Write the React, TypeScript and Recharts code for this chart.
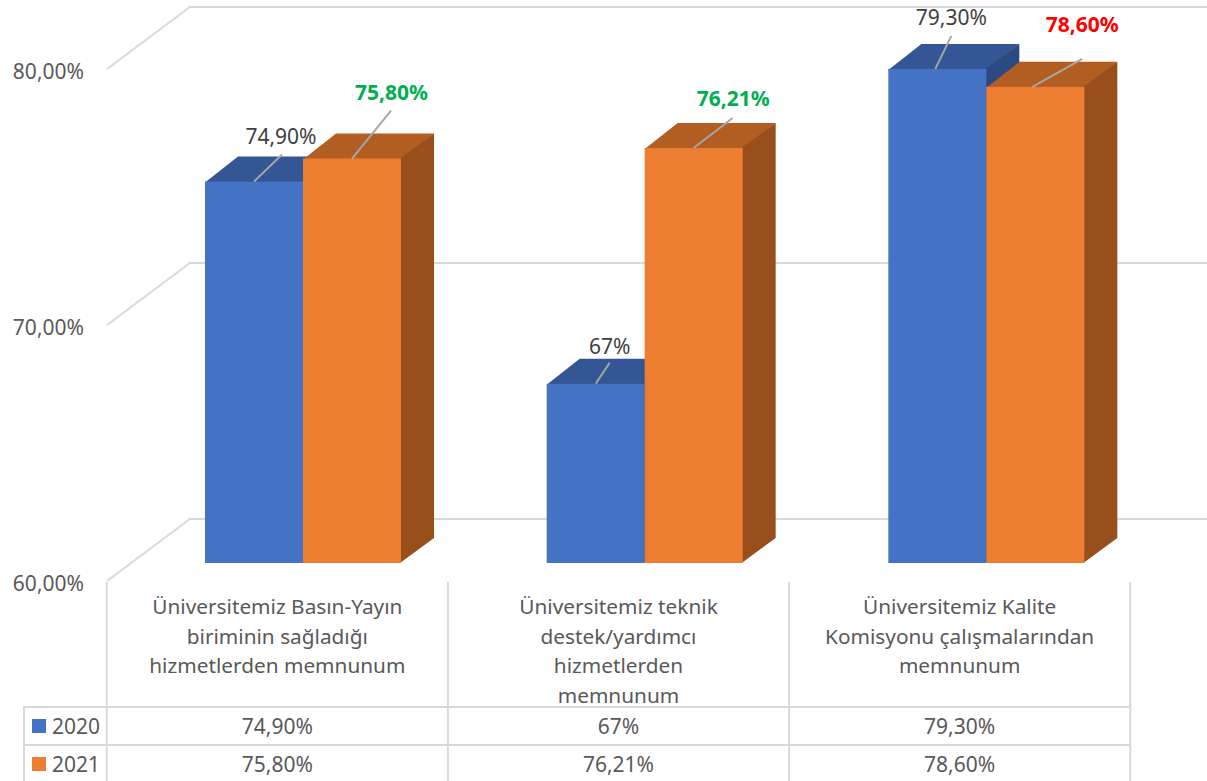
import { Bar, BarChart, CartesianGrid, LabelList, XAxis, YAxis } from "recharts";

const categories = [
  ["Üniversitemiz Basın-Yayın", "biriminin sağladığı", "hizmetlerden memnunum"],
  ["Üniversitemiz teknik", "destek/yardımcı", "hizmetlerden", "memnunum"],
  ["Üniversitemiz Kalite", "Komisyonu çalışmalarından", "memnunum"],
];
const seriesNames = ["2020", "2021"];
const values2020 = [74.9, 67, 79.3];
const values2021 = [75.8, 76.21, 78.6];
const labels2020 = ["74,90%", "67%", "79,30%"];
const labels2021 = ["75,80%", "76,21%", "78,60%"];
const yTicks = [60, 70, 80];
const yTickLabels = ["60,00%", "70,00%", "80,00%"];

const chartData = categories.map((lines, i) => ({
  name: lines.join(" "),
  y2020: values2020[i],
  y2021: values2021[i],
}));

const FONT = "'Noto Sans', sans-serif";
const TEXT = "#595959";
const GRID = "#d9d9d9";
const DEPTH_X = 33;
const DEPTH_Y = 25;

// leader line end and label centre, relative to the bar's top left corner
const leaders2020 = [
  { sx: 49, ex: 77, ey: -27, lx: 76, ly: -46 },
  { sx: 49, ex: 63, ey: -21, lx: 63, ly: -38 },
  { sx: 47, ex: 63, ey: -33, lx: 63, ly: -52 },
];
const leaders2021 = [
  { sx: 49, ex: 88, ey: -48, lx: 88.5, ly: -67 },
  { sx: 49, ex: 88, ey: -30, lx: 88.5, ly: -50 },
  { sx: 46, ex: 96, ey: -28, lx: 96, ly: -63 },
];

function Box3D({ x, y, width, height, fill, top, side }: any) {
  const r = x + width;
  const b = y + height;
  // top and side run slightly under the front face so no seam shows through
  return (
    <g>
      <polygon
        points={`${x},${y + 1} ${x + DEPTH_X},${y - DEPTH_Y} ${r + DEPTH_X},${y - DEPTH_Y} ${r},${y + 1}`}
        fill={top}
      />
      <polygon
        points={`${r - 1},${y} ${r + DEPTH_X},${y - DEPTH_Y} ${r + DEPTH_X},${b - DEPTH_Y} ${r - 1},${b}`}
        fill={side}
      />
      <rect x={x} y={y} width={width} height={height} fill={fill} />
    </g>
  );
}

function GridWall({ x1, y1 }: any) {
  const wallX = x1 - 25;
  return (
    <g stroke={GRID} strokeWidth={2} fill="none">
      <polyline points={`${wallX},${y1 + 18} ${wallX + 83},${y1 - 44} 1207,${y1 - 44}`} />
    </g>
  );
}

function YTick({ y, index }: any) {
  return (
    <text
      x={84}
      y={y + 19.5}
      textAnchor="end"
      dominantBaseline="central"
      fontFamily={FONT}
      fontSize={21}
      fill={TEXT}
    >
      {yTickLabels[index]}
    </text>
  );
}

function TableCell({ x, index }: any) {
  const cx = x - 25.5 - index * 0.5;
  const left = cx - 170.6;
  const right = cx + 170.6;
  const textProps = {
    textAnchor: "middle" as const,
    dominantBaseline: "central" as const,
    fontFamily: FONT,
    fontSize: 21,
    fill: TEXT,
  };
  return (
    <g>
      <g stroke={GRID} strokeWidth={2}>
        <line x1={left} y1={582} x2={left} y2={781} />
        {index === 2 && <line x1={right} y1={582} x2={right} y2={781} />}
        <line x1={left} y1={707} x2={right} y2={707} />
        <line x1={left} y1={745} x2={right} y2={745} />
        {index === 0 && (
          <g>
            <line x1={24} y1={707} x2={left} y2={707} />
            <line x1={24} y1={745} x2={left} y2={745} />
            <line x1={24} y1={706} x2={24} y2={781} />
          </g>
        )}
      </g>
      {categories[index].map((line, i) => (
        <text key={line} x={cx} y={606 + i * 29.5} {...textProps} fontSize={20.8}>
          {line}
        </text>
      ))}
      <text x={cx} y={726} {...textProps}>
        {labels2020[index]}
      </text>
      <text x={cx} y={764} {...textProps}>
        {labels2021[index]}
      </text>
      {index === 0 && (
        <g>
          <rect x={32} y={719} width={14} height={14} fill="#4472c4" />
          <rect x={32} y={757} width={14} height={14} fill="#ed7d31" />
          <text x={52} y={726} {...textProps} textAnchor="start">
            {seriesNames[0]}
          </text>
          <text x={52} y={764} {...textProps} textAnchor="start">
            {seriesNames[1]}
          </text>
        </g>
      )}
    </g>
  );
}

function makeLabel(labels: string[], leaders: typeof leaders2020, colors: string[], bold: boolean) {
  return ({ x, y, index }: any) => {
    const l = leaders[index];
    return (
      <g>
        <line
          x1={x + l.sx}
          y1={y}
          x2={x + l.ex}
          y2={y + l.ey}
          stroke="#a6a6a6"
          strokeWidth={2}
        />
        <text
          x={x + l.lx}
          y={y + l.ly}
          textAnchor="middle"
          dominantBaseline="central"
          fontFamily={FONT}
          fontSize={21}
          fontWeight={bold ? 700 : 400}
          fill={colors[index]}
        >
          {labels[index]}
        </text>
      </g>
    );
  };
}

export default function App() {
  return (
    <div style={{ position: "absolute", left: 0, top: 0, width: 1207, height: 781, background: "#fff" }}>
      <BarChart
        width={1207}
        height={781}
        data={chartData}
        margin={{ top: 51, right: 50, bottom: 0, left: 0 }}
        barSize={98}
        barGap={0}
      >
        <CartesianGrid vertical={false} horizontal={(p: any) => <GridWall key={p.key} {...p} />} />
        <XAxis
          dataKey="name"
          height={218}
          interval={0}
          axisLine={false}
          tickLine={false}
          tick={(p: any) => <TableCell {...p} />}
        />
        <YAxis
          width={132}
          domain={[60, 80]}
          ticks={yTicks}
          axisLine={false}
          tickLine={false}
          tick={(p: any) => <YTick {...p} />}
        />
        <Bar
          dataKey="y2020"
          name={seriesNames[0]}
          fill="#4472c4"
          isAnimationActive={false}
          shape={(p: any) => <Box3D {...p} top="#345694" side="#2b4a81" />}
        >
          <LabelList
            dataKey="y2020"
            content={makeLabel(labels2020, leaders2020, ["#404040", "#404040", "#404040"], false)}
          />
        </Bar>
        <Bar
          dataKey="y2021"
          name={seriesNames[1]}
          fill="#ed7d31"
          isAnimationActive={false}
          shape={(p: any) => <Box3D {...p} top="#b25d22" side="#984f1c" />}
        >
          <LabelList
            dataKey="y2021"
            content={makeLabel(labels2021, leaders2021, ["#00b050", "#00b050", "#ff0000"], true)}
          />
        </Bar>
      </BarChart>
    </div>
  );
}
